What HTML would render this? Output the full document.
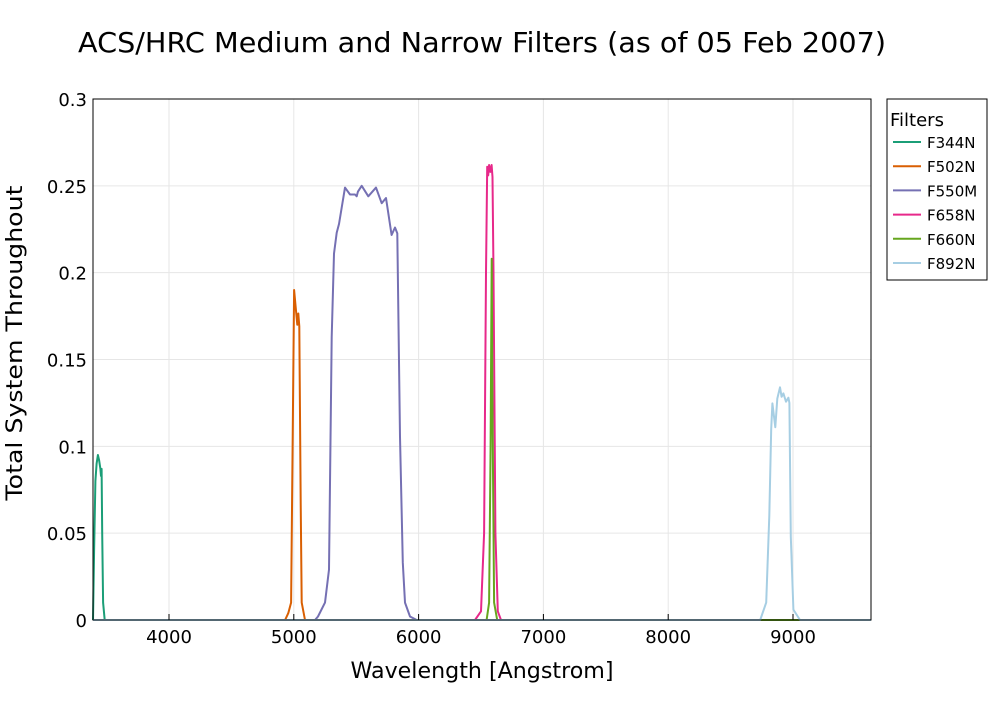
<!DOCTYPE html>
<html><head><meta charset="utf-8"><style>
body{margin:0;background:#fff;font-family:"DejaVu Sans",sans-serif;}
svg text{font-family:"DejaVu Sans",sans-serif;}
</style></head><body>
<svg id="chart" width="1000" height="700" xmlns="http://www.w3.org/2000/svg">
<text x="78" y="52" font-size="27.5" fill="#000" textLength="808" lengthAdjust="spacingAndGlyphs">ACS/HRC Medium and Narrow Filters (as of 05 Feb 2007)</text>
<g id="grid"></g>
<g id="series"></g>
<rect x="93" y="99" width="778" height="521" fill="none" stroke="#000" stroke-width="1"/>
<g id="axes"></g>
<text x="482" y="678" font-size="22" text-anchor="middle" textLength="263" lengthAdjust="spacingAndGlyphs">Wavelength [Angstrom]</text>
<text transform="translate(22,343) rotate(-90)" font-size="22" text-anchor="middle" textLength="315" lengthAdjust="spacingAndGlyphs">Total System Throughout</text>
<g>
<rect x="887" y="99" width="100" height="181" fill="#fff" stroke="#000"/>
<text x="890" y="126" font-size="18">Filters</text>
<g id="legend-items"></g>
</g>
</svg>
<script>
const xTicks=[4000,5000,6000,7000,8000,9000];
const yTicks=[0,0.05,0.1,0.15,0.2,0.25,0.3];
const yTickLabels=["0","0.05","0.1","0.15","0.2","0.25","0.3"];
const seriesNames=["F344N","F502N","F550M","F658N","F660N","F892N"];
const seriesColors=["#1b9e77","#d95f02","#7570b3","#e7298a","#66a61e","#a6cee3"];
const w344=[3391,3400,3410,3420,3430,3440,3450,3455,3460,3465,3472,3485];
const t344=[0,0.04,0.08,0.09,0.095,0.092,0.087,0.083,0.087,0.05,0.01,0];
const w502=[4930,4956,4978,4991,5002,5028,5036,5044,5055,5063,5090];
const t502=[0,0.004,0.01,0.1055,0.19,0.17,0.1765,0.169,0.067,0.01,0];
const w550=[5170,5194,5250,5282,5304,5322,5344,5362,5410,5450,5490,5504,5514,5544,5597,5659,5704,5739,5784,5811,5829,5851,5873,5891,5931,5985];
const t550=[0,0.002,0.01,0.029,0.163,0.211,0.223,0.228,0.249,0.245,0.245,0.244,0.2466,0.25,0.244,0.249,0.240,0.243,0.2217,0.226,0.2226,0.1055,0.033,0.01,0.002,0];
const w658=[6452,6500,6525,6540,6550,6558,6565,6575,6585,6592,6600,6615,6635,6660];
const t658=[0,0.005,0.05,0.2,0.261,0.256,0.262,0.258,0.262,0.255,0.2,0.05,0.005,0];
const w660=[6545,6565,6577,6586,6592,6605,6630];
const t660=[0,0.01,0.1,0.208,0.12,0.01,0];
const w892=[8737,8785,8810,8825,8835,8858,8874,8896,8909,8923,8944,8963,8971,8982,9003,9056];
const t892=[0,0.01,0.06,0.11,0.1247,0.111,0.1275,0.134,0.1285,0.1305,0.1257,0.128,0.125,0.048,0.006,0];
const xMin=3391,xMax=9625,yMax=0.3;
const X=w=>93+(w-xMin)/(xMax-xMin)*778;
const Y=v=>620-v/yMax*521;
const NS="http://www.w3.org/2000/svg";
function mk(tag,attrs,parent){const e=document.createElementNS(NS,tag);for(const k in attrs)e.setAttribute(k,attrs[k]);parent.appendChild(e);return e;}
const grid=document.getElementById('grid'),axes=document.getElementById('axes'),sg=document.getElementById('series'),lg=document.getElementById('legend-items');
xTicks.forEach(t=>{
 const l=mk('line',{x1:X(t),x2:X(t),y1:99,y2:620,stroke:'#e6e6e6'},grid);
 
 
 const tk=mk('line',{x1:X(t),x2:X(t),y1:614,y2:620,stroke:'#000'},axes);
 
 
 const tx=mk('text',{x:X(t),y:643,'font-size':18,'text-anchor':'middle'},axes);tx.textContent=t;
 
 
});
yTicks.forEach((t,i)=>{
 const l=mk('line',{x1:93,x2:871,y1:Y(t),y2:Y(t),stroke:'#e6e6e6'},grid);
 
 
 const tx=mk('text',{x:87,y:Y(t)+7,'font-size':18,'text-anchor':'end'},axes);tx.textContent=yTickLabels[i];
 
 
});
const W=[w344,w502,w550,w658,w660,w892],T=[t344,t502,t550,t658,t660,t892];
W.forEach((ws,s)=>{
 const pts=[[xMin,0]].concat(ws.map((w,i)=>[w,T[s][i]])).concat([[xMax,0]]);
 const d=pts.map((p,i)=>(i?'L':'M')+X(p[0]).toFixed(1)+' '+Y(p[1]).toFixed(1)).join(' ');
 const p=mk('path',{d:d,fill:'none',stroke:seriesColors[s],'stroke-width':2,'stroke-linejoin':'round'},sg);
 
 
 const y=142+s*24.2;
 const ll=mk('line',{x1:893,x2:921,y1:y,y2:y,stroke:seriesColors[s],'stroke-width':2},lg);
 
 
 const lt=mk('text',{x:927,y:y+6,'font-size':15},lg);lt.textContent=seriesNames[s];
 
 
});
</script>
</body></html>
